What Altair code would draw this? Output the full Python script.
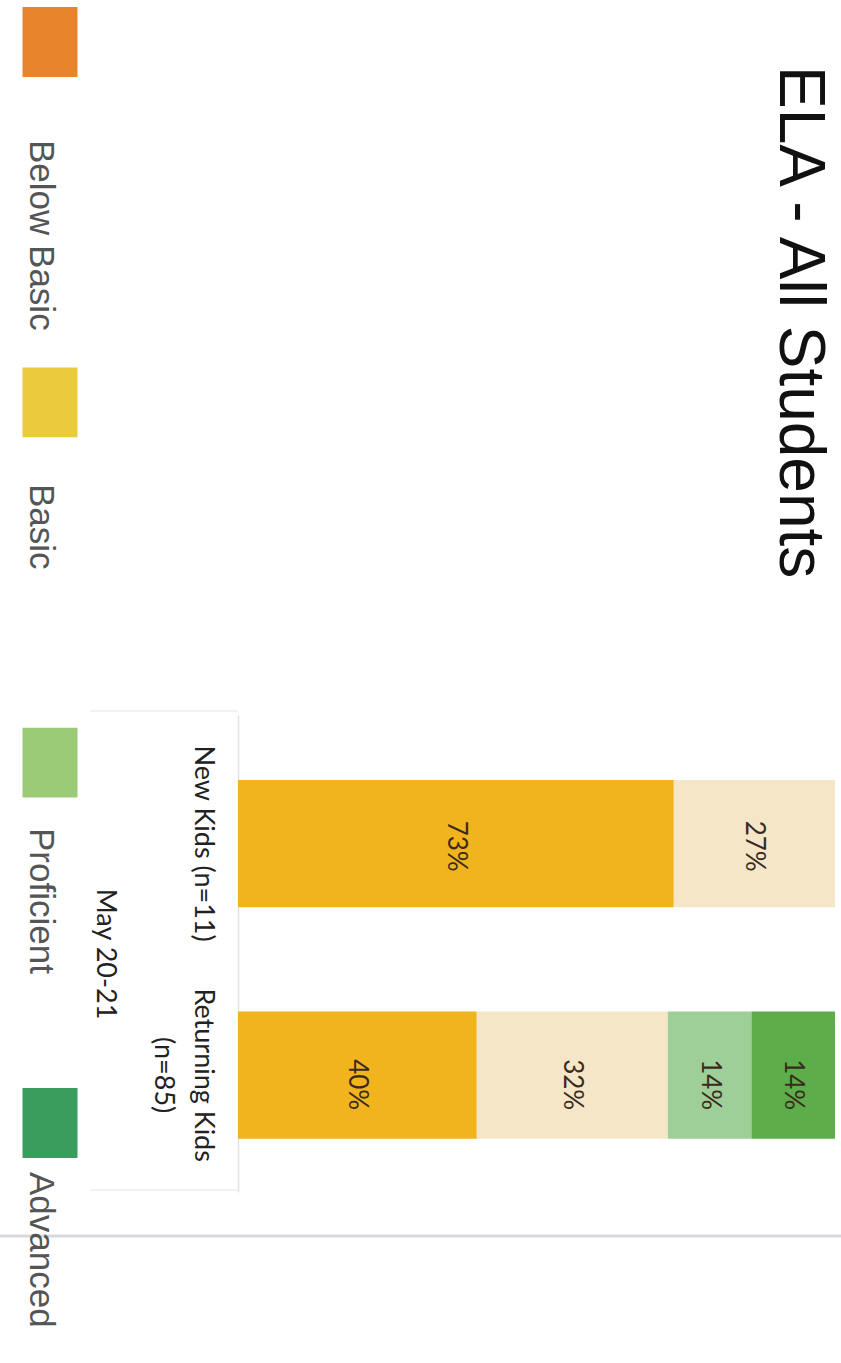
import altair as alt
import pandas as pd

# ---- data ----
groups = ["New Kids (n=11)", "Returning Kids\n(n=85)"]
levels = ["Below Basic", "Basic", "Proficient", "Advanced"]
new_kids = [73, 27, 0, 0]
returning_kids = [40, 32, 14, 14]
bar_colors = ["#F2B41C", "#F6E6C8", "#9FCF98", "#5DAE4B"]
legend_colors = ["#E8842C", "#EBCB3C", "#9CCB78", "#3A9D5D"]
title_text = "ELA - All Students"
period_label = "May 20-21"

rows = []
for g, vals in zip(groups, [new_kids, returning_kids]):
    for i, (lv, v) in enumerate(zip(levels, vals)):
        if v > 0:
            rows.append({"group": g, "level": lv, "idx": i, "pct": v})
df = pd.DataFrame(rows)
leg = pd.DataFrame({"level": levels})

W, H = 597, 477
PL, PT = 238, 715

yscale = alt.Scale(domain=groups, paddingInner=0.45, paddingOuter=0.255, align=0.55)
xscale = alt.Scale(domain=[0, 100], nice=False, zero=True)
sym_scale = alt.Scale(type="point", domain=levels, range=[42 - PT, 1123 - PT], padding=0)
lab_scale = alt.Scale(type="point", domain=levels, range=[140 - PT, 1172 - PT], padding=0)

base = alt.Chart(df).transform_stack(
    stack="pct", groupby=["group"], sort=[alt.SortField("idx")], as_=["x0", "x1"]
).transform_calculate(mid="(datum.x0 + datum.x1) / 2", lab="datum.pct + '%'")

bars = base.mark_bar(opacity=1).encode(
    y=alt.Y("group:N", scale=yscale, sort=groups,
            axis=alt.Axis(title=period_label, labelAngle=90, labelAlign="center",
                          labelBaseline="alphabetic", labelPadding=44, ticks=False,
                          labelFont="Lato", labelFontSize=27, labelColor="#222",
                          labelLineHeight=40, labelLimit=400,
                          labelExpr="split(datum.label, '\\n')",
                          domainColor="#e2e2e2", domainWidth=1.5,
                          titleAngle=90, titleFont="Lato", titleFontSize=27,
                          titleFontWeight="normal", titleColor="#222",
                          titleX=-142, titleY=H / 2, titleAlign="center",
                          titleBaseline="alphabetic", grid=False)),
    x=alt.X("x0:Q", scale=xscale, axis=None),
    x2="x1:Q",
    color=alt.Color("level:N", scale=alt.Scale(domain=levels, range=bar_colors), legend=None),
)

bar_text = base.mark_text(angle=90, align="center", baseline="middle",
                          font="Lato", fontSize=26, color="#3a2a20").encode(
    y=alt.Y("group:N", scale=yscale, sort=groups, axis=None),
    x=alt.X("mid:Q", scale=xscale, axis=None),
    text="lab:N",
)

leg_sym = alt.Chart(leg).mark_point(
    shape="M-1,-1.27H1V1.27H-1Z", filled=True, opacity=1, size=3025
).encode(
    x=alt.value(50 - PL),
    y=alt.Y("level:N", sort=levels, scale=sym_scale, axis=None),
    color=alt.Color("level:N", scale=alt.Scale(domain=levels, range=legend_colors), legend=None),
)

leg_txt = alt.Chart(leg).mark_text(
    angle=90, align="left", baseline="alphabetic",
    font="Liberation Sans", fontSize=35, color="#555"
).encode(
    x=alt.value(30 - PL),
    y=alt.Y("level:N", sort=levels, scale=lab_scale, axis=None),
    text="level:N",
)

title = alt.Chart(pd.DataFrame({"t": [title_text]})).mark_text(
    angle=90, align="left", baseline="alphabetic",
    font="Liberation Sans", fontSize=64, color="#111"
).encode(x=alt.value(780 - PL), y=alt.value(66 - PT), text="t:N")

box_top = alt.Chart(pd.DataFrame({"k": ["a"]})).mark_rule(color="#ececec", strokeWidth=1.5).encode(
    x=alt.value(90 - PL), x2=alt.value(0), y=alt.value(-4))
box_bot = alt.Chart(pd.DataFrame({"k": ["a"]})).mark_rule(color="#ececec", strokeWidth=1.5).encode(
    x=alt.value(90 - PL), x2=alt.value(0), y=alt.value(475))
page_line = alt.Chart(pd.DataFrame({"k": ["a"]})).mark_rule(color="#d8d8de", strokeWidth=3).encode(
    x=alt.value(-PL), x2=alt.value(841 - PL), y=alt.value(1236 - PT))

chart = alt.layer(
    box_top, box_bot, page_line, bars, bar_text, leg_sym, leg_txt, title
).resolve_scale(y="independent", x="independent", color="independent").properties(
    width=W, height=H,
    padding={"left": PL, "top": PT, "right": 841 - PL - W, "bottom": 1363 - PT - H},
    autosize=alt.AutoSizeParams(type="none"),
    view=alt.ViewBackground(stroke="transparent", strokeWidth=0),
).configure_view(stroke="transparent", strokeWidth=0).configure(background="white")

chart.save("out.html", embed_options={"renderer": "svg", "actions": False})
